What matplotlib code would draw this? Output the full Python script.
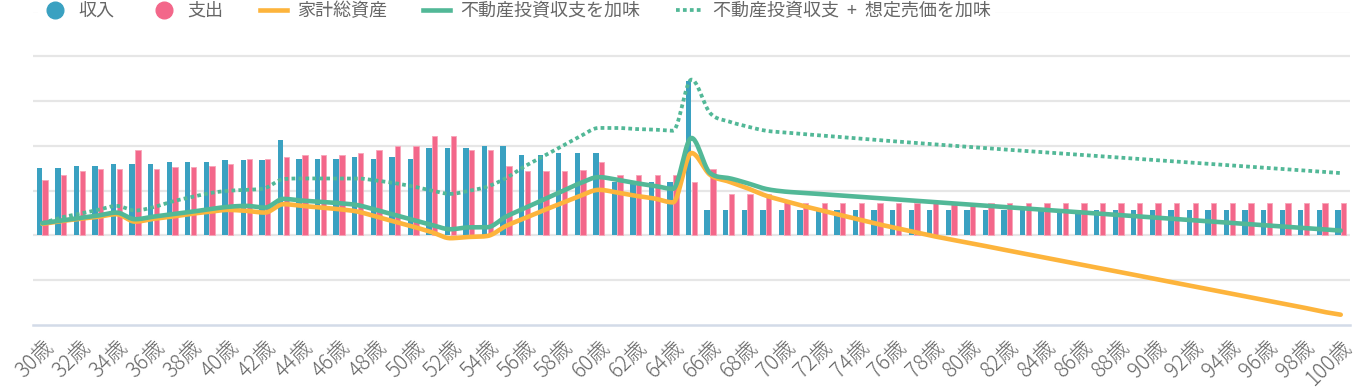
import numpy as np
import matplotlib
matplotlib.use("Agg")
import matplotlib.pyplot as plt
from matplotlib.lines import Line2D

plt.rcParams['font.family'] = ['Noto Sans CJK JP', 'DejaVu Sans']

# 万円, one value per age 30..100
ages = list(range(30, 101))

income = [755, 755, 778, 778, 800, 800, 800, 819, 819, 819,
          837, 837, 837, 1069, 856, 856, 856, 875, 856, 875,
          856, 971, 971, 971, 994, 994, 897, 897, 915, 915,
          915, 599, 580, 599, 599, 1721, 285, 285, 285, 285,
          285, 285, 285, 285, 285, 285, 285, 285, 285, 285,
          285, 285, 285, 285, 285, 285, 285, 285, 285, 285,
          285, 285, 285, 285, 285, 285, 285, 285, 285, 285, 285]

expense = [621, 677, 722, 741, 741, 957, 741, 759, 759, 778,
           800, 856, 856, 875, 897, 897, 897, 915, 957, 994,
           994, 1113, 1113, 953, 953, 778, 718, 718, 718, 736,
           815, 680, 680, 680, 680, 602, 741, 464, 464, 464,
           386, 364, 364, 364, 364, 364, 364, 364, 364, 364,
           364, 364, 364, 364, 364, 364, 364, 364, 364, 364,
           364, 364, 364, 364, 364, 364, 364, 364, 364, 364, 364]

assets = [129, 159, 185, 207, 237, 154, 185, 210, 241, 263,
          285, 274, 255, 349, 330, 311, 293, 266, 210, 154,
          98, 36, -31, -17, -6, 106, 192, 278, 360, 442,
          509, 479, 442, 412, 369, 920, 677, 602, 528, 445,
          386, 330, 280, 229, 179, 129, 84, 39, -6, -46,
          -86, -125, -166, -206, -246, -285, -326, -366, -406, -445,
          -486, -526, -566, -605, -646, -686, -726, -765, -806, -850, -885]

with_rei = [137, 166, 196, 222, 255, 181, 210, 237, 263, 293,
            319, 330, 311, 408, 389, 375, 360, 338, 285, 229,
            173, 117, 69, 90, 92, 210, 304, 397, 490, 584,
            651, 621, 584, 554, 520, 1088, 696, 640, 584, 520,
            490, 476, 461, 446, 432, 417, 403, 388, 374, 359,
            345, 330, 316, 301, 286, 272, 257, 243, 228, 214,
            199, 185, 170, 156, 141, 126, 112, 97, 83, 68, 54]

with_rei_sale = [137, 199, 241, 285, 330, 278, 316, 378, 427, 472,
                 498, 509, 528, 629, 636, 636, 636, 636, 613, 584,
                 546, 501, 464, 498, 546, 640, 770, 882, 994, 1106,
                 1200, 1200, 1188, 1181, 1169, 1740, 1367, 1273, 1217, 1169,
                 1150, 1132, 1116, 1099, 1082, 1065, 1050, 1034, 1018, 1003,
                 987, 972, 958, 943, 929, 914, 900, 885, 871, 856,
                 841, 827, 812, 798, 783, 769, 754, 740, 725, 711, 696]

BLUE = '#3aa1c1'
PINK = '#f3678a'
ORANGE = '#fdb43c'
GREEN = '#52b897'
TEXT = '#666666'


def monotone(x, y, n=24):
    """Fritsch-Carlson monotone cubic through the points."""
    x = np.asarray(x, float)
    y = np.asarray(y, float)
    h = np.diff(x)
    d = np.diff(y) / h
    m = np.zeros_like(y)
    m[0], m[-1] = d[0], d[-1]
    for i in range(1, len(y) - 1):
        m[i] = 0 if d[i - 1] * d[i] <= 0 else (d[i - 1] + d[i]) / 2
    for k in range(len(d)):
        if d[k] == 0:
            m[k] = m[k + 1] = 0
            continue
        a, b = m[k] / d[k], m[k + 1] / d[k]
        s = a * a + b * b
        if s > 9:
            t = 3 / np.sqrt(s)
            m[k], m[k + 1] = t * a * d[k], t * b * d[k]
    xs, ys = [], []
    for k in range(len(d)):
        t = np.linspace(0, 1, n, endpoint=False)
        h00 = 2 * t**3 - 3 * t**2 + 1
        h10 = t**3 - 2 * t**2 + t
        h01 = -2 * t**3 + 3 * t**2
        h11 = t**3 - t**2
        xs.append(x[k] + t * h[k])
        ys.append(h00 * y[k] + h10 * h[k] * m[k] + h01 * y[k + 1] + h11 * h[k] * m[k + 1])
    xs.append([x[-1]])
    ys.append([y[-1]])
    return np.concatenate(xs), np.concatenate(ys)


W, H = 1358, 388
fig = plt.figure(figsize=(W / 100, H / 100), dpi=100)
ax = fig.add_axes([33 / W, (H - 325) / H, (1350 - 33) / W, (325 - 11.5) / H])

pos = np.arange(len(ages))
bw = 0.29
ax.bar(pos - bw / 2 - 0.01, income, width=bw, color=BLUE, zorder=2)
ax.bar(pos + bw / 2 + 0.01, expense, width=bw, color=PINK,
       edgecolor='#f8a5b9', linewidth=0.6, zorder=2)

sx, sy = monotone(pos, assets)
ax.plot(sx, sy, color=ORANGE, lw=3.3, zorder=4, solid_capstyle='round')
sx, sy = monotone(pos, with_rei)
ax.plot(sx, sy, color=GREEN, lw=3.3, zorder=4, solid_capstyle='round')
sx, sy = monotone(pos, with_rei_sale)
ax.plot(sx, sy, color=GREEN, lw=2.7, ls=(0, (1.0, 0.85)),
        dash_capstyle='butt', zorder=4)

ax.set_xlim(-0.5, len(ages) - 0.5)
ax.set_ylim(-1000, 2500)
ax.set_yticks(np.arange(-500, 2501, 500))
ax.yaxis.grid(True, color='#e6e6e6', lw=1.6, zorder=0)
ax.set_axisbelow(True)
ax.tick_params(axis='y', left=False, labelleft=False)
for side in ['left', 'right', 'top']:
    ax.spines[side].set_visible(False)
ax.spines['bottom'].set_color('#d3dbe8')
ax.spines['bottom'].set_linewidth(1.8)

ticks = pos[::2]
ax.set_xticks(ticks)
ax.set_xticklabels([f"{a}歳" for a in ages[::2]], rotation=45,
                   ha='right', va='top', rotation_mode='anchor',
                   fontsize=15, fontweight='light', color=TEXT)
ax.tick_params(axis='x', length=0, pad=8)

handles = [
    Line2D([], [], ls='none', marker='o', markersize=12, color=BLUE),
    Line2D([], [], ls='none', marker='o', markersize=12, color=PINK),
    Line2D([], [], color=ORANGE, lw=3.3),
    Line2D([], [], color=GREEN, lw=3.3),
    Line2D([], [], color=GREEN, lw=2.7, ls=(0, (1.0, 0.85))),
]
labels = ['収入', '支出', '家計総資産', '不動産投資収支を加味',
          '不動産投資収支  +  想定売価を加味']
leg = ax.legend(handles, labels, ncol=5, loc='center left',
                bbox_to_anchor=(38 / W, 1 - 11 / H),
                bbox_transform=fig.transFigure, frameon=True,
                facecolor='white', edgecolor='none', framealpha=1,
                fontsize=13, handlelength=1.5, handletextpad=0.55,
                columnspacing=2.0, borderpad=0.2, borderaxespad=0)
for t in leg.get_texts():
    t.set_color(TEXT)

fig.savefig('out.png', dpi=100, facecolor='white')
